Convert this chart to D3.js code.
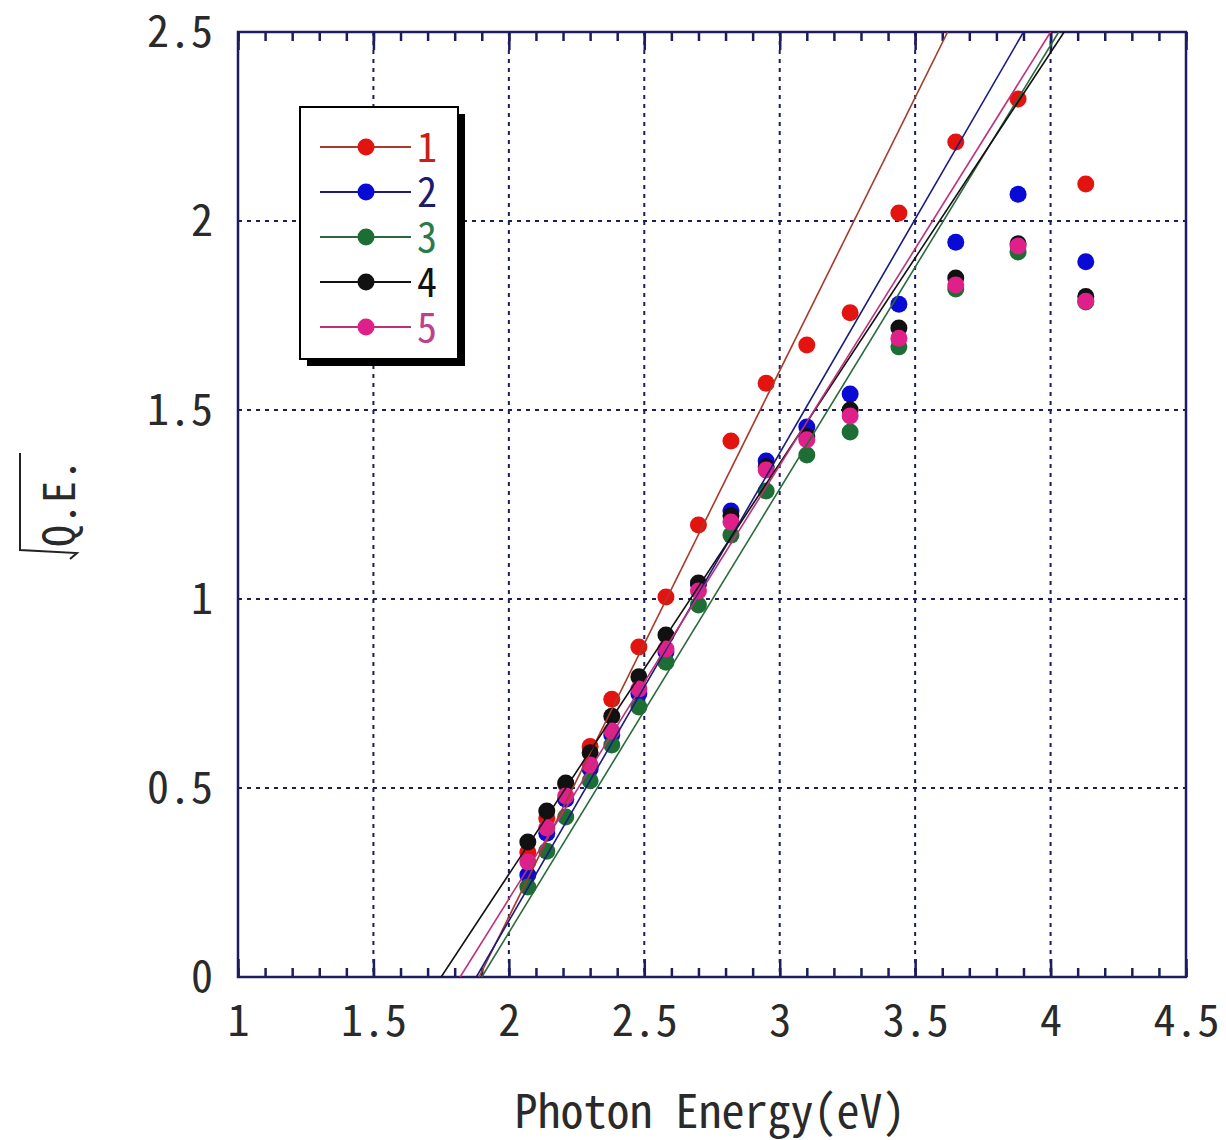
<!DOCTYPE html>
<html>
<head>
<meta charset="utf-8">
<script src="https://cdnjs.cloudflare.com/ajax/libs/d3/7.8.5/d3.min.js"></script>
<style>
  body { margin: 0; background: #fff; }
  svg text { font-family: 'Noto Sans Mono CJK JP', 'DejaVu Sans Mono', monospace; }
</style>
</head>
<body>
<div class="layout"></div>
<script>
// photon energies (eV) of the measured points
var energy = [2.07, 2.14, 2.21, 2.30, 2.38, 2.48, 2.58, 2.70, 2.82, 2.95, 3.10, 3.26, 3.44, 3.65, 3.88, 4.13];

// sqrt(Q.E.) for each sample
var sample1 = [0.33, 0.42, 0.51, 0.61, 0.735, 0.873, 1.005, 1.196, 1.418, 1.571, 1.672, 1.757, 2.021, 2.209, 2.323, 2.098];
var sample2 = [0.27, 0.38, 0.47, 0.55, 0.64, 0.75, 0.86, 1.04, 1.233, 1.365, 1.455, 1.542, 1.78, 1.944, 2.071, 1.892];
var sample3 = [0.238, 0.333, 0.423, 0.519, 0.614, 0.714, 0.833, 0.984, 1.169, 1.286, 1.381, 1.442, 1.667, 1.82, 1.918, 1.786];
var sample4 = [0.357, 0.439, 0.513, 0.593, 0.69, 0.794, 0.905, 1.042, 1.22, 1.35, 1.43, 1.5, 1.717, 1.849, 1.94, 1.80];
var sample5 = [0.304, 0.394, 0.479, 0.561, 0.651, 0.762, 0.868, 1.021, 1.204, 1.341, 1.421, 1.484, 1.69, 1.831, 1.934, 1.788];

var seriesNames = ["1", "2", "3", "4", "5"];
var seriesValues = [sample1, sample2, sample3, sample4, sample5];

// linear fits: energy where the line crosses 0 and where it reaches 2.5
var fitAtZero = [1.89, 1.88, 1.90, 1.75, 1.82];
var fitAtTop = [3.62, 3.90, 4.03, 4.05, 4.00];

var pointColors = ["#e3140f", "#0a0ad6", "#1d6e34", "#111111", "#e0208a"];
var lineColors = ["#a83a2a", "#1a1a80", "#2a6a3a", "#111111", "#c0307a"];
var labelColors = ["#c82018", "#1c1c6e", "#2a7a4a", "#111111", "#c04090"];

var xTicks = [1, 1.5, 2, 2.5, 3, 3.5, 4, 4.5];
var yTicks = [0, 0.5, 1, 1.5, 2, 2.5];

var navy = "#1c1c5e";

var svg = d3.select("div.layout")
  .append("svg")
  .attr("width", 1226)
  .attr("height", 1140);

var x = d3.scaleLinear().domain([1, 4.5]).range([238, 1186]);
var y = d3.scaleLinear().domain([0, 2.5]).range([977, 32]);

var minorX = d3.range(10, 46).map(function (d) { return d / 10; });

svg.append("defs").append("clipPath")
  .attr("id", "plotclip")
  .append("rect")
  .attr("x", x(1)).attr("y", y(2.5))
  .attr("width", x(4.5) - x(1)).attr("height", y(0) - y(2.5));

// grid
var grid = svg.append("g").attr("class", "grid");
grid.selectAll("line.gx")
  .data(xTicks.slice(1, -1))
  .enter().append("line")
  .attr("class", "gx")
  .attr("x1", function (d) { return x(d); })
  .attr("x2", function (d) { return x(d); })
  .attr("y1", y(2.5)).attr("y2", y(0))
  .attr("stroke", navy).attr("stroke-width", 2)
  .attr("stroke-dasharray", "4,5");
grid.selectAll("line.gy")
  .data(yTicks.slice(1, -1))
  .enter().append("line")
  .attr("class", "gy")
  .attr("y1", function (d) { return y(d); })
  .attr("y2", function (d) { return y(d); })
  .attr("x1", x(1)).attr("x2", x(4.5))
  .attr("stroke", navy).attr("stroke-width", 2)
  .attr("stroke-dasharray", "4,5");

// minor ticks, bottom and top, pointing in
svg.append("g")
  .attr("transform", "translate(0," + y(0) + ")")
  .call(d3.axisBottom(x).tickValues(minorX).tickSize(-9).tickFormat(""))
  .call(function (g) { g.select(".domain").remove(); });
svg.append("g")
  .attr("transform", "translate(0," + y(2.5) + ")")
  .call(d3.axisTop(x).tickValues(minorX).tickSize(-9).tickFormat(""))
  .call(function (g) { g.select(".domain").remove(); });

// major ticks with labels
svg.append("g")
  .attr("class", "xAxis")
  .attr("transform", "translate(0," + y(0) + ")")
  .call(d3.axisBottom(x).tickValues(xTicks).tickSize(-18).tickPadding(28).tickFormat(d3.format("")))
  .call(function (g) { g.select(".domain").remove(); });
svg.append("g")
  .attr("transform", "translate(0," + y(2.5) + ")")
  .call(d3.axisTop(x).tickValues(xTicks).tickSize(-18).tickFormat(""))
  .call(function (g) { g.select(".domain").remove(); });

svg.append("g")
  .attr("class", "yAxis")
  .attr("transform", "translate(" + x(1) + ",0)")
  .call(d3.axisLeft(y).tickValues(yTicks).tickSize(0).tickPadding(25).tickFormat(d3.format("")))
  .call(function (g) { g.select(".domain").remove(); });

svg.selectAll("g.tick line").attr("stroke", navy).attr("stroke-width", 2.5);
svg.selectAll(".xAxis text, .yAxis text")
  .attr("font-size", 44)
  .attr("fill", "#2a2a2a")
  .style("font-family", "'Noto Sans Mono CJK JP', 'DejaVu Sans Mono', monospace");

// frame
svg.append("rect")
  .attr("x", x(1)).attr("y", y(2.5))
  .attr("width", x(4.5) - x(1)).attr("height", y(0) - y(2.5))
  .attr("fill", "none")
  .attr("stroke", navy)
  .attr("stroke-width", 2.5);

// points
var plot = svg.append("g").attr("clip-path", "url(#plotclip)");
seriesValues.forEach(function (vals, i) {
  plot.append("g")
    .attr("class", "series s" + (i + 1))
    .selectAll("circle")
    .data(vals)
    .enter().append("circle")
    .attr("cx", function (d, j) { return x(energy[j]); })
    .attr("cy", function (d) { return y(d); })
    .attr("r", 8.5)
    .attr("fill", pointColors[i]);
});

// fit lines
fitAtZero.forEach(function (x0, i) {
  plot.append("line")
    .attr("class", "fit")
    .attr("x1", x(x0)).attr("y1", y(0))
    .attr("x2", x(fitAtTop[i])).attr("y2", y(2.5))
    .attr("stroke", lineColors[i])
    .attr("stroke-width", 1.6);
});

// legend
var legend = svg.append("g").attr("class", "legend");
legend.append("rect")
  .attr("x", 307).attr("y", 114).attr("width", 158).attr("height", 252)
  .attr("fill", "#000");
legend.append("rect")
  .attr("x", 300).attr("y", 107).attr("width", 158).attr("height", 252)
  .attr("fill", "#fff").attr("stroke", "#000").attr("stroke-width", 2);

var entry = legend.selectAll("g.entry")
  .data(seriesNames)
  .enter().append("g")
  .attr("class", "entry")
  .attr("transform", function (d, i) { return "translate(0," + (147 + i * 45) + ")"; });
entry.append("line")
  .attr("x1", 320).attr("x2", 411).attr("y1", 0).attr("y2", 0)
  .attr("stroke", function (d, i) { return lineColors[i]; })
  .attr("stroke-width", 2);
entry.append("circle")
  .attr("cx", 366).attr("cy", 0).attr("r", 8.5)
  .attr("fill", function (d, i) { return pointColors[i]; });
entry.append("text")
  .attr("x", 417).attr("y", 15)
  .attr("font-size", 40)
  .attr("fill", function (d, i) { return labelColors[i]; })
  .text(function (d) { return d; });

// x label
svg.append("text")
  .attr("x", 710).attr("y", 1128)
  .attr("text-anchor", "middle")
  .attr("font-size", 46)
  .attr("fill", "#2a2a2a")
  .text("Photon Energy(eV)");

// y label: square root of Q.E.
var ylab = svg.append("g").attr("transform", "translate(75,503) rotate(-90)");
ylab.append("text")
  .attr("x", 0).attr("y", 0)
  .attr("text-anchor", "middle")
  .attr("font-size", 44)
  .attr("fill", "#2a2a2a")
  .text("Q.E.");
ylab.append("path")
  .attr("d", "M50,-55 L-47,-55 L-50,2 L-56,-5")
  .attr("fill", "none")
  .attr("stroke", "#222")
  .attr("stroke-width", 2);
</script>
</body>
</html>
